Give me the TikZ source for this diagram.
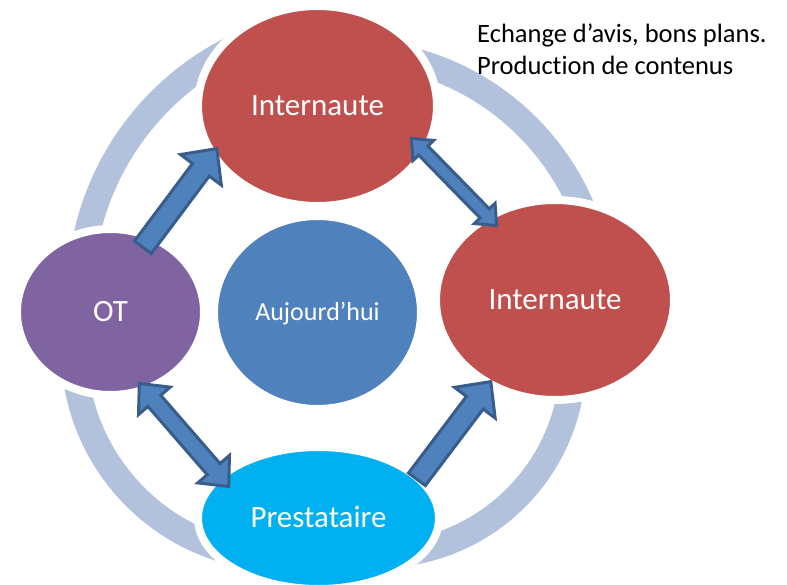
\documentclass[tikz,border=0pt]{standalone}
\usepackage{fontspec}
\setmainfont{Carlito}[Ligatures=NoCommon]
\usetikzlibrary{calc,shapes.geometric}
\definecolor{ringc}{RGB}{178,194,221}
\definecolor{redc}{RGB}{192,80,77}
\definecolor{purc}{RGB}{128,100,162}
\definecolor{bluec}{RGB}{79,129,189}
\definecolor{cyanc}{RGB}{0,176,240}
\definecolor{arrb}{RGB}{56,93,138}
% single block arrow: tail, tip, half shaft, half head, head length
\newcommand{\myarrowone}[5]{%
  \coordinate (hh) at ($(#2)!#5!(#1)$);
  \draw[blockarrow] ($(#1)!#3!90:(#2)$) -- ($(hh)!#3!90:(#2)$) -- ($(hh)!#4!90:(#2)$) -- (#2)
    -- ($(hh)!#4!-90:(#2)$) -- ($(hh)!#3!-90:(#2)$) -- ($(#1)!#3!-90:(#2)$) -- cycle;
}
% double block arrow: tip, tip, half shaft, half head, head length
\newcommand{\myarrowtwo}[5]{%
  \coordinate (ha) at ($(#1)!#5!(#2)$);
  \coordinate (hb) at ($(#2)!#5!(#1)$);
  \draw[blockarrow] (#1) -- ($(ha)!#4!90:(#2)$) -- ($(ha)!#3!90:(#2)$) -- ($(hb)!#3!90:(#2)$)
    -- ($(hb)!#4!90:(#2)$) -- (#2) -- ($(hb)!#4!-90:(#2)$) -- ($(hb)!#3!-90:(#2)$)
    -- ($(ha)!#3!-90:(#2)$) -- ($(ha)!#4!-90:(#2)$) -- cycle;
}
\begin{document}
\begin{tikzpicture}[x=1pt,y=-1pt,
  bubble/.style={ellipse, draw=white, line width=8pt, inner sep=0pt, text=white,
    font=\fontsize{31}{36}\selectfont, text height=19pt, text depth=0pt},
  ringline/.style={draw=ringc, line width=26pt},
  blockarrow/.style={fill=bluec, draw=arrb, line width=3pt, line join=miter},
  note/.style={anchor=base west, inner sep=0pt, text=black, font=\fontsize{26.5}{32}\selectfont}]
\useasboundingbox (0,0) rectangle (787,585);

% ring: four circular arcs
\coordinate (ctl) at (355,295);
\coordinate (ctr) at (347,307);
\coordinate (cbr) at (378,360);
\coordinate (cbl) at (283,349);
\draw[ringline] ($(ctl)+(185:275)$) arc[start angle=185, end angle=255, radius=275];
\draw[ringline] ($(ctr)+(278:255)$) arc[start angle=278, end angle=350, radius=255];
\draw[ringline] ($(cbr)+(5:195)$) arc[start angle=5, end angle=90, radius=195];
\draw[ringline] ($(cbl)+(95:209)$) arc[start angle=95, end angle=178, radius=209];

% bubbles
\node[bubble, fill=redc, minimum width=239pt, minimum height=200pt] (net1) at (317.5,106) {Internaute};
\node[bubble, fill=redc, minimum width=238pt, minimum height=200pt] (net2) at (555,300) {Internaute};
\node[bubble, fill=purc, minimum width=187pt, minimum height=166pt] (ot) at (110.5,312) {OT};
\node[bubble, fill=bluec, minimum width=207pt, minimum height=193pt,
      font=\fontsize{26}{30}\selectfont, text height=16pt] (auj) at (317.5,312.5) {Aujourd’hui};
\node[bubble, fill=cyanc, minimum width=241pt, minimum height=142pt] (pres) at (318.5,518) {Prestataire};

% note
\node[note] (n1) at (477,43) {Echange d’avis, bons plans.};
\node[note] (n2) at (477,75) {Production de contenus};

% arrow end points
\coordinate (a1s) at (142.9,247.3);
\coordinate (a1t) at (216.8,148.6);
\coordinate (a4s) at (416.9,479.3);
\coordinate (a4t) at (490.8,381.6);
\coordinate (a2a) at (411.4,138.4);
\coordinate (a2b) at (496.6,225.6);
\coordinate (a3a) at (139.3,383.5);
\coordinate (a3b) at (228.7,486.5);

\myarrowone{a1s}{a1t}{10.5pt}{25.5pt}{26.5pt}
\myarrowone{a4s}{a4t}{10.5pt}{25.5pt}{26.5pt}
\myarrowtwo{a2a}{a2b}{6.5pt}{14.5pt}{17pt}
\myarrowtwo{a3a}{a3b}{8.5pt}{21pt}{23pt}
\end{tikzpicture}
\end{document}
